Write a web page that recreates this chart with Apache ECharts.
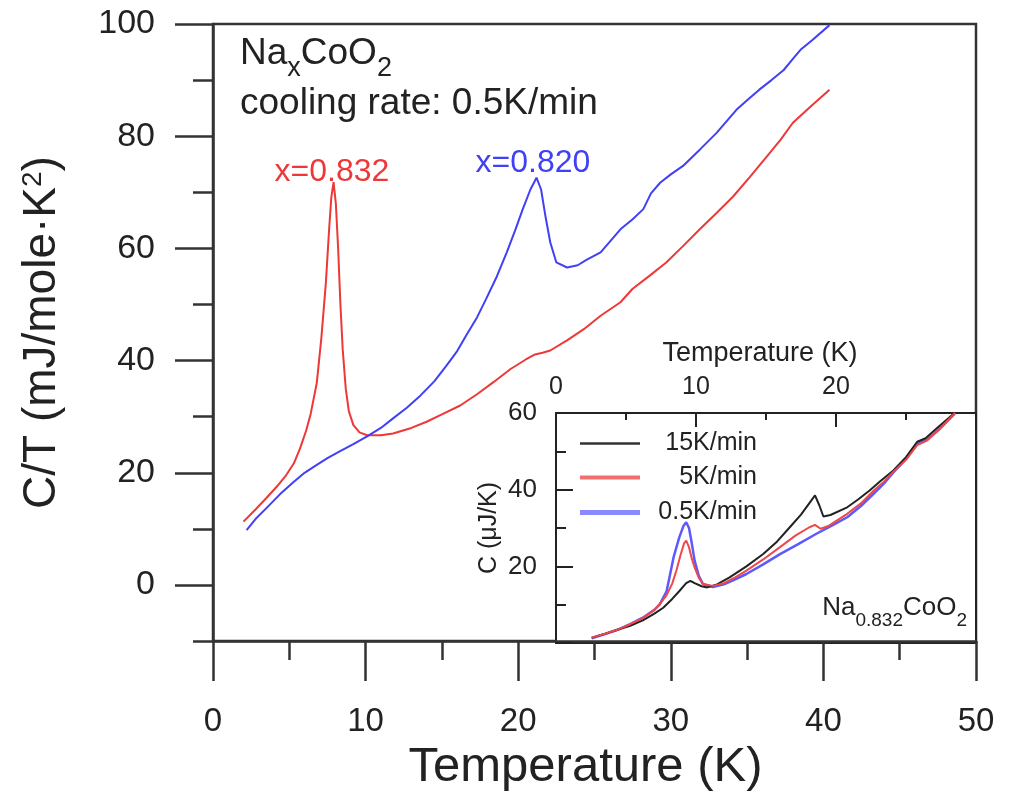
<!DOCTYPE html>
<html>
<head>
<meta charset="utf-8">
<script src="https://cdn.jsdelivr.net/npm/echarts@6/dist/echarts.min.js"></script>
<style>
    html, body { margin: 0; padding: 0; background: #fff; }
    #chart { width: 1009px; height: 797px; }
</style>
</head>
<body>
<div id="chart"></div>
<script>
// main panel, x = 0.832 (red)
const tempRed = [2.0, 2.8, 3.5, 4.2, 4.8, 5.3, 5.7, 6.1, 6.4, 6.8, 7.1, 7.4, 7.6, 7.75, 7.9, 8.05, 8.2, 8.35, 8.5, 8.7, 8.9, 9.2, 9.6, 10.1, 11.0, 11.8, 13.0, 14.0, 15.0, 16.2, 17.3, 18.4, 19.5, 20.5, 21.1, 21.6, 22.1, 23.2, 24.3, 25.4, 26.7, 27.5, 28.6, 29.7, 30.8, 31.9, 33.0, 34.1, 35.2, 36.3, 37.2, 38.0, 39.2, 40.4];
const ctRed = [11.3, 13.5, 15.5, 17.6, 19.6, 21.7, 24.3, 27.5, 30.5, 36, 44, 54, 63, 69, 71.8, 68, 60, 50, 42, 35, 31, 28.5, 27.2, 26.7, 26.7, 27, 28, 29.1, 30.4, 32, 34, 36.2, 38.5, 40.2, 41.1, 41.4, 41.8, 43.6, 45.6, 48, 50.4, 52.8, 55.1, 57.5, 60.4, 63.4, 66.3, 69.3, 72.8, 76.4, 79.4, 82.4, 85.4, 88.3];

// main panel, x = 0.820 (blue)
const tempBlue = [2.2, 2.8, 3.5, 4.4, 5.3, 6.0, 6.8, 7.5, 8.3, 9.2, 10.1, 11.0, 11.8, 12.7, 13.6, 14.5, 15.3, 16.0, 16.6, 17.3, 17.9, 18.6, 19.25, 19.8, 20.3, 20.8, 21.2, 21.5, 21.8, 22.1, 22.5, 23.2, 23.9, 24.5, 25.4, 26.7, 27.5, 28.2, 28.7, 29.3, 30.0, 30.8, 31.9, 33.0, 34.3, 35.0, 35.8, 36.6, 37.4, 38.0, 38.5, 39.3, 40.4];
const ctBlue = [9.8, 11.8, 13.7, 16.2, 18.4, 20, 21.4, 22.6, 23.8, 25.1, 26.5, 28, 29.7, 31.6, 33.8, 36.3, 39.1, 41.7, 44.5, 47.7, 51, 55, 59.3, 63.2, 67, 70.5, 72.6, 70.5, 65.5, 61.1, 57.5, 56.6, 57, 58, 59.3, 63.4, 65.2, 67, 69.8, 71.7, 73.2, 74.7, 77.6, 80.6, 84.7, 86.4, 88.3, 90, 91.8, 93.8, 95.4, 97.2, 99.8];

// inset, Na0.832CoO2 at three cooling rates
const insetTemp15 = [2.55, 3.5, 4.5, 5.3, 6.2, 7.0, 7.66, 8.3, 8.8, 9.3, 9.6, 9.9, 10.4, 10.8, 11.5, 12.4, 13.6, 14.8, 15.8, 16.7, 17.5, 18.1, 18.5, 18.8, 19.1, 19.6, 20.8, 21.6, 22.4, 23.2, 24.1, 25.0, 25.8, 26.4, 27.2, 28.3, 28.5];
const insetC15 = [1.4, 2.4, 3.6, 4.5, 5.9, 7.6, 9.2, 11.5, 13.5, 15.6, 16.2, 15.6, 14.8, 14.5, 15.3, 17.1, 20, 23.2, 26.5, 30.2, 33.5, 36.5, 38.5, 36, 33, 33.4, 35.4, 37.5, 39.8, 42.3, 45, 48.5, 52.5, 53.4, 56, 59.5, 60];
const insetTemp5 = [2.55, 3.5, 4.5, 5.3, 6.2, 7.0, 7.4, 7.9, 8.3, 8.6, 8.9, 9.15, 9.3, 9.5, 9.7, 9.9, 10.2, 10.5, 11.2, 12.0, 12.8, 13.6, 14.8, 16.0, 17.1, 18.1, 18.5, 18.9, 19.5, 20.8, 21.8, 22.7, 23.4, 24.1, 25.0, 25.8, 26.5, 27.3, 28.4, 28.5];
const insetC5 = [1.4, 2.4, 3.6, 4.9, 6.5, 8.5, 10.1, 12.5, 15.5, 18.9, 23, 26, 26.7, 25, 22, 19.7, 17, 15.4, 14.9, 15.6, 17.1, 18.9, 21.8, 25, 28, 30.2, 30.8, 29.8, 30.6, 33.7, 36.5, 39.8, 42, 44.7, 47.8, 51.6, 52.8, 55.5, 59.6, 60];
const insetTemp05 = [2.55, 3.5, 4.5, 5.3, 6.2, 7.0, 7.4, 7.9, 8.4, 8.8, 9.1, 9.3, 9.5, 9.7, 9.9, 10.2, 10.5, 11.2, 12.0, 12.8, 13.6, 14.8, 16.0, 17.3, 18.6, 19.7, 20.8, 21.8, 22.7, 23.4, 24.1, 25.0, 25.8, 26.5, 27.3, 28.4, 28.5];
const insetC05 = [1.2, 2.3, 3.6, 4.9, 6.6, 8.6, 10, 13.5, 22.4, 27.5, 30.5, 31.5, 30, 26, 21.5, 17.5, 15.4, 14.6, 15.3, 16.6, 18, 20.5, 23.2, 25.8, 28.5, 30.6, 32.8, 35.8, 39, 41.5, 44.5, 48, 52, 53, 55.5, 59.5, 60];

// tick values
const mainMajorTicks = [0, 20, 40, 60, 80, 100];
const mainMinorTicks = [-10, 10, 30, 50, 70, 90];

const FONT = "'Liberation Sans', Arial, Helvetica, sans-serif";
const INK = '#222';

const pts = (xs, ys) => xs.map((x, i) => [x, ys[i]]);

const chart = echarts.init(document.getElementById('chart'));

const legendFor = (name, top, height) => ({
    data: [{ name: name, icon: 'rect' }],
    left: 580, top: top, padding: 0,
    itemWidth: 60, itemHeight: height,
    formatter: n => '{t|' + n + '}',
    textStyle: {
        rich: { t: { width: 112, align: 'right', fontSize: 25, lineHeight: 28, color: INK, fontFamily: FONT } }
    }
});

chart.setOption({
    animation: false,
    backgroundColor: '#fff',
    grid: [
        { left: 213, top: 24, right: 33, bottom: 154, show: true, borderColor: '#333', borderWidth: 2.5 },
        { left: 556, top: 413, right: 33, bottom: 154, show: true, borderColor: INK, borderWidth: 2, backgroundColor: '#fff' }
    ],
    xAxis: [
        {
            gridIndex: 0, type: 'value', min: 0, max: 50, interval: 10,
            name: 'Temperature (K)', nameLocation: 'middle', nameGap: 101,
            nameTextStyle: { fontSize: 49, color: INK, fontFamily: FONT, padding: [0, 18, 0, 0] },
            axisLine: { onZero: false, lineStyle: { color: '#333', width: 2.5 } },
            axisTick: { length: 40, lineStyle: { color: '#333', width: 2.5 } },
            minorTick: { show: true, splitNumber: 2, length: 19, lineStyle: { color: '#333', width: 2.5 } },
            axisLabel: { fontSize: 33, margin: 64, color: INK, fontFamily: FONT },
            splitLine: { show: false }
        },
        {
            gridIndex: 1, type: 'value', position: 'top', min: 0, max: 30, interval: 10,
            name: 'Temperature (K)', nameLocation: 'middle', nameGap: 46,
            nameTextStyle: { fontSize: 27, color: INK, fontFamily: FONT, padding: [0, 12, 0, 0] },
            axisLine: { onZero: false, lineStyle: { color: INK, width: 2 } },
            axisTick: { inside: true, length: 14, lineStyle: { color: INK, width: 2 } },
            minorTick: { show: true, splitNumber: 2, length: 7, lineStyle: { color: INK, width: 2 } },
            axisLabel: { fontSize: 25, margin: 13, color: INK, fontFamily: FONT, showMaxLabel: false },
            splitLine: { show: false }
        }
    ],
    yAxis: [
        {
            gridIndex: 0, type: 'value', position: 'left', min: -10, max: 100,
            name: '{a|C/T (mJ/mole·K}{s|2}{a|)}', nameLocation: 'middle', nameGap: 144,
            nameTextStyle: {
                color: INK, fontFamily: FONT,
                rich: {
                    a: { fontSize: 46, lineHeight: 50, verticalAlign: 'top', color: INK, fontFamily: FONT },
                    s: { fontSize: 28, lineHeight: 28, verticalAlign: 'top', color: INK, fontFamily: FONT }
                }
            },
            axisLine: { show: true, onZero: false, lineStyle: { color: '#333', width: 2.5 } },
            axisTick: { customValues: mainMajorTicks, length: 38, lineStyle: { color: '#333', width: 2.5 } },
            axisLabel: { customValues: mainMajorTicks, fontSize: 34, margin: 58, color: INK, fontFamily: FONT },
            splitLine: { show: false }
        },
        {
            gridIndex: 0, type: 'value', position: 'left', min: -10, max: 100,
            axisLine: { show: false, onZero: false },
            axisTick: { customValues: mainMinorTicks, length: 20, lineStyle: { color: '#333', width: 2.5 } },
            axisLabel: { show: false },
            splitLine: { show: false }
        },
        {
            gridIndex: 1, type: 'value', position: 'left', min: 0, max: 60, interval: 20,
            name: 'C (μJ/K)', nameLocation: 'middle', nameGap: 54,
            nameTextStyle: { fontSize: 25, color: INK, fontFamily: FONT },
            axisLine: { show: true, onZero: false, lineStyle: { color: INK, width: 2 } },
            axisTick: { inside: true, length: 17, lineStyle: { color: INK, width: 2 } },
            minorTick: { show: true, splitNumber: 2, length: 10, lineStyle: { color: INK, width: 2 } },
            axisLabel: { fontSize: 26, margin: 19, color: INK, fontFamily: FONT, showMinLabel: false },
            splitLine: { show: false }
        }
    ],
    legend: [
        legendFor('15K/min', 431, 2.5),
        legendFor('5K/min', 465, 4),
        legendFor('0.5K/min', 500, 5)
    ],
    series: [
        {
            name: 'x=0.832', type: 'line', xAxisIndex: 0, yAxisIndex: 0, data: pts(tempRed, ctRed),
            symbol: 'none', lineStyle: { color: '#ee3838', width: 2 }, itemStyle: { color: '#ee3838' }
        },
        {
            name: 'x=0.820', type: 'line', xAxisIndex: 0, yAxisIndex: 0, data: pts(tempBlue, ctBlue),
            symbol: 'none', lineStyle: { color: '#4040f5', width: 2 }, itemStyle: { color: '#4040f5' }
        },
        {
            name: '15K/min', type: 'line', xAxisIndex: 1, yAxisIndex: 2, data: pts(insetTemp15, insetC15),
            symbol: 'none', lineStyle: { color: '#222', width: 2 }, itemStyle: { color: '#333' }, z: 4
        },
        {
            name: '5K/min', type: 'line', xAxisIndex: 1, yAxisIndex: 2, data: pts(insetTemp5, insetC5),
            symbol: 'none', lineStyle: { color: '#ee4848', width: 2 }, itemStyle: { color: '#f07070' }, z: 4
        },
        {
            name: '0.5K/min', type: 'line', xAxisIndex: 1, yAxisIndex: 2, data: pts(insetTemp05, insetC05),
            symbol: 'none', lineStyle: { color: '#5a5aff', width: 2.5 }, itemStyle: { color: '#8a8aff' }, z: 3
        }
    ],
    graphic: [
        {
            type: 'text', x: 240, y: 35, z: 10,
            style: {
                text: '{a|Na}{b|x}{a|CoO}{b|2}', verticalAlign: 'top',
                rich: {
                    a: { fontSize: 37, lineHeight: 44, verticalAlign: 'top', fill: INK, fontFamily: FONT },
                    b: { fontSize: 27, lineHeight: 27, verticalAlign: 'top', padding: [20, 0, 0, 0], fill: INK, fontFamily: FONT }
                }
            }
        },
        {
            type: 'text', x: 240, y: 104, z: 10,
            style: { text: 'cooling rate: 0.5K/min', fontSize: 37, fontFamily: FONT, fill: INK, verticalAlign: 'middle' }
        },
        {
            type: 'text', x: 332, y: 172, z: 10,
            style: { text: 'x=0.832', fontSize: 32, fontFamily: FONT, fill: '#ee3838', align: 'center', verticalAlign: 'middle' }
        },
        {
            type: 'text', x: 533, y: 163, z: 10,
            style: { text: 'x=0.820', fontSize: 32, fontFamily: FONT, fill: '#4040f5', align: 'center', verticalAlign: 'middle' }
        },
        {
            type: 'text', x: 967, y: 595, z: 10,
            style: {
                text: '{a|Na}{b|0.832}{a|CoO}{b|2}', align: 'right', verticalAlign: 'top',
                rich: {
                    a: { fontSize: 26, lineHeight: 32, verticalAlign: 'top', fill: INK, fontFamily: FONT },
                    b: { fontSize: 19, lineHeight: 19, verticalAlign: 'top', padding: [16, 0, 0, 0], fill: INK, fontFamily: FONT }
                }
            }
        }
    ]
});
</script>
</body>
</html>
